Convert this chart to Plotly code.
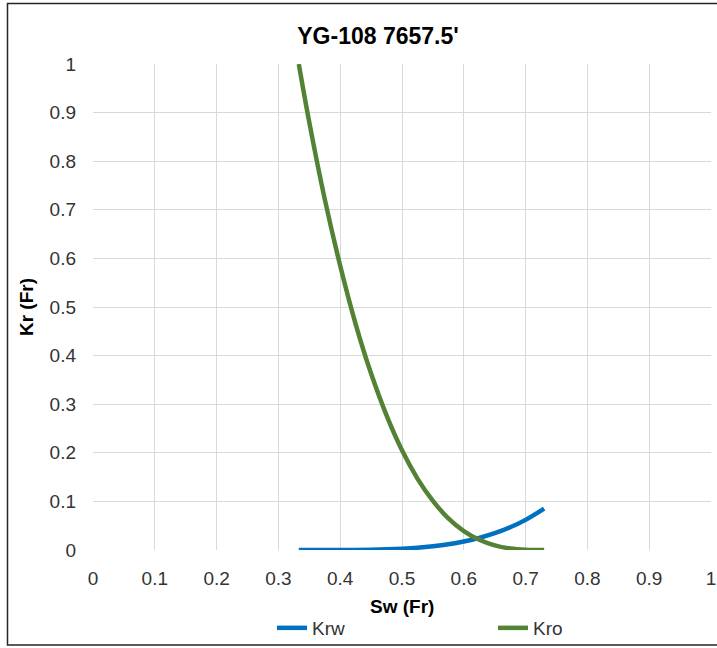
import plotly.graph_objects as go

# Relative permeability data, YG-108 at 7657.5 ft
sw = [0.333, 0.35, 0.375, 0.4, 0.425, 0.45, 0.475, 0.5, 0.525, 0.55,
      0.575, 0.6, 0.625, 0.65, 0.675, 0.7, 0.73]
krw = [0.0, 0.0, 0.00001, 0.00007, 0.00025, 0.00064, 0.0014, 0.0027, 0.0046,
       0.0076, 0.0117, 0.0174, 0.0249, 0.0345, 0.0467, 0.062, 0.085]
kro = [1.0, 0.88, 0.722, 0.585, 0.465, 0.363, 0.277, 0.205, 0.147, 0.101,
       0.065, 0.039, 0.021, 0.0096, 0.0032, 0.0006, 0.0]

x_ticks = [0, 0.1, 0.2, 0.3, 0.4, 0.5, 0.6, 0.7, 0.8, 0.9, 1]
x_tick_text = ["0", "0.1", "0.2", "0.3", "0.4", "0.5", "0.6", "0.7", "0.8", "0.9", "1"]
y_ticks = [0, 0.1, 0.2, 0.3, 0.4, 0.5, 0.6, 0.7, 0.8, 0.9, 1]
y_tick_text = ["0", "0.1", "0.2", "0.3", "0.4", "0.5", "0.6", "0.7", "0.8", "0.9", "1"]

W, H = 717, 648
ML, MR, MT, MB = 93, 6, 64, 98
PW, PH = W - ML - MR, H - MT - MB

def px_to_paper_x(px):
    return (px - ML) / PW

def px_to_paper_y(py):
    return (H - MB - py) / PH

FONT = "Arial, Liberation Sans, sans-serif"

fig = go.Figure()
fig.add_trace(go.Scatter(x=sw, y=krw, name="Krw", mode="lines",
                         line=dict(color="#0070C0", width=4.5, shape="spline")))
fig.add_trace(go.Scatter(x=sw, y=kro, name="Kro", mode="lines",
                         line=dict(color="#548235", width=4.5, shape="spline")))

axis_font = dict(family=FONT, size=19, color="#333333")
title_font = dict(family=FONT, size=19, color="#000000")

fig.update_layout(
    width=W, height=H,
    margin=dict(l=ML, r=MR, t=MT, b=MB, autoexpand=False),
    paper_bgcolor="white", plot_bgcolor="white",
    title=dict(text="<b>YG-108 7657.5'</b>", x=378 / W, xanchor="center",
               y=1 - 36 / H, yanchor="middle",
               font=dict(family=FONT, size=23, color="#000000")),
    xaxis=dict(range=[0, 1], tickvals=x_ticks, ticktext=x_tick_text,
               showgrid=True, gridcolor="#D9D9D9", gridwidth=1,
               zeroline=False, showline=False, ticks="", ticklabelstandoff=15,
               tickfont=axis_font, automargin=False),
    yaxis=dict(range=[0, 1], tickvals=y_ticks, ticktext=y_tick_text,
               showgrid=True, gridcolor="#D9D9D9", gridwidth=1,
               zeroline=False, showline=False, ticks="", ticklabelstandoff=16,
               tickfont=axis_font, automargin=False,
               title=dict(text="<b>Kr (Fr)</b>", font=title_font, standoff=10)),
    legend=dict(orientation="h", xref="container", yref="container",
                x=272 / W, xanchor="left",
                y=1 - 628 / H, yanchor="middle",
                entrywidth=176, entrywidthmode="pixels",
                font=dict(family=FONT, size=19, color="#333333"),
                bgcolor="rgba(0,0,0,0)"),
    showlegend=True,
)

# x-axis title placed below the tick labels
fig.add_annotation(text="<b>Sw (Fr)</b>", xref="paper", yref="paper",
                   x=0.5, y=px_to_paper_y(606), xanchor="center", yanchor="middle",
                   showarrow=False, font=title_font)

# Outer chart border
fig.add_shape(type="rect", xref="paper", yref="paper",
              x0=px_to_paper_x(7.5), x1=px_to_paper_x(720),
              y0=px_to_paper_y(645), y1=px_to_paper_y(3.5),
              line=dict(color="#262626", width=1.5), fillcolor="rgba(0,0,0,0)",
              layer="below")

fig.write_html("out.html")
